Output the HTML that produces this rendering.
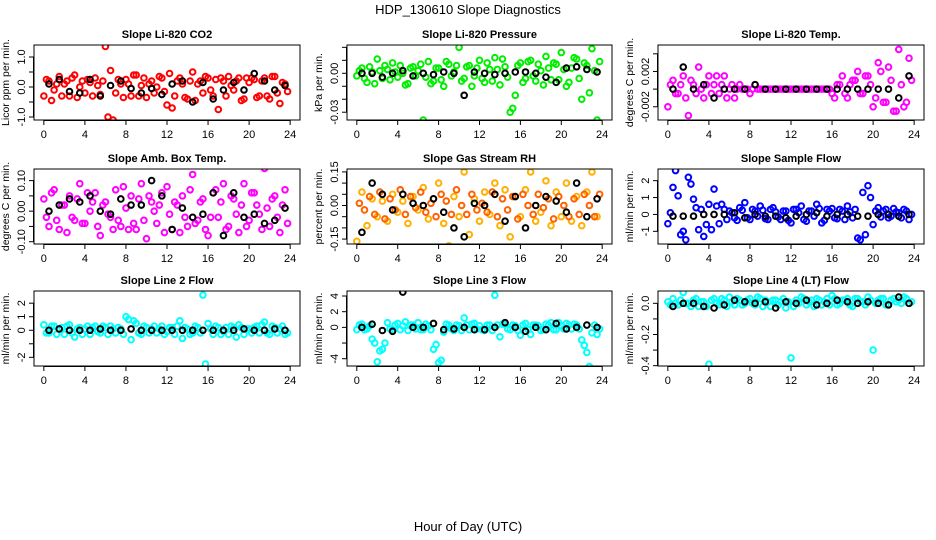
<!DOCTYPE html>
<html><head><meta charset="utf-8"><style>
html,body{margin:0;padding:0;background:#fff}
svg{display:block;font-family:"Liberation Sans",sans-serif}
</style></head><body>
<svg id="chart" width="936" height="540" viewBox="0 0 936 540" xmlns="http://www.w3.org/2000/svg">
<rect width="936" height="540" fill="#fff"/>
<text x="468" y="14" font-size="13" text-anchor="middle">HDP_130610  Slope Diagnostics</text>
<text x="468" y="531" font-size="13" text-anchor="middle">Hour of Day (UTC)</text>
</svg>
<script>
const xTicks=[0,4,8,12,16,20,24];
const co2A=[-0.3,0.2,-0.1,0.35,0.1,-0.3,0.4,0.0,-0.2,0.15,0.3,-0.25,1.35,0.55,-0.2,0.1,0.25,-0.3,0.4,0.05,-0.35,0.2,0.0,0.3,-0.6,-0.7,0.2,0.1,-0.4,0.5,0.1,-0.2,0.3,-0.3,-0.75,0.2,0.35,-0.1,0.3,-0.4,0.15,0.25,-0.3,0.3,-0.4,0.35,-0.55,0.1];
const co2B=[0.25,-0.45,0.1,-0.3,0.2,0.3,-0.35,0.2,0.25,-0.3,0.05,0.2,-1.0,-1.1,0.25,-0.35,0.1,0.4,-0.3,0.3,0.1,-0.2,0.35,-0.15,0.45,-0.3,0.3,-0.35,0.2,-0.45,0.2,0.35,-0.1,0.25,0.3,-0.3,0.05,0.2,-0.45,0.3,0.3,-0.35,0.2,-0.3,0.35,-0.2,0.15,-0.15];
const co2K=[0.1,0.25,-0.15,-0.2,0.25,-0.3,0.05,0.2,-0.05,-0.2,-0.05,-0.25,0.1,0.2,-0.5,0.15,-0.4,-0.1,0.15,-0.1,0.45,0.2,-0.1,0.05];
const prsA=[-0.002,0.004,-0.007,0.001,0.011,-0.004,0.003,0.008,-0.003,0.0,-0.008,0.005,0.002,-0.036,0.009,-0.006,0.004,-0.01,0.007,0.001,0.02,-0.004,0.006,-0.002,0.01,-0.007,0.003,0.012,-0.009,0.005,-0.03,-0.017,0.008,-0.004,0.01,-0.006,0.002,0.013,-0.005,0.007,0.016,-0.01,0.004,0.011,-0.02,0.006,0.019,-0.036];
const prsB=[0.002,-0.004,0.005,-0.008,0.002,0.006,-0.005,0.001,0.006,-0.009,0.004,-0.002,0.007,-0.003,-0.008,0.004,-0.005,0.009,-0.002,0.006,-0.006,0.005,-0.01,0.004,-0.004,0.008,-0.006,0.003,0.011,-0.003,-0.027,0.006,-0.007,0.009,-0.002,0.007,-0.009,0.004,0.008,-0.005,0.003,-0.007,0.012,-0.004,0.008,-0.015,0.002,0.009];
const prsK=[0.0,0.0,-0.003,0.0,0.002,-0.002,0.0,-0.001,0.001,0.0,-0.017,0.001,0.0,-0.001,0.0,0.001,0.001,0.0,-0.003,-0.007,0.004,0.005,0.003,0.001];
const tmpA=[-0.002,0.001,-0.0005,0.0015,-0.003,0.0005,0.0025,-0.001,0.0015,0.0005,-0.0005,0.0015,0.0,-0.001,0.0005,0.0,-0.0005,0.0005,0.0,0.0,0.0,0.0,0.0,0.0,0.0,0.0,0.0,0.0,0.0,0.0,0.0,0.0,-0.0005,0.0005,0.0015,-0.001,0.001,0.002,-0.0005,0.0015,-0.002,0.003,-0.0015,0.0025,-0.0025,0.0045,-0.002,0.0035];
const tmpB=[0.0005,-0.0005,0.0005,-0.001,0.001,-0.0005,0.0,0.0005,-0.0005,0.0015,0.0005,-0.001,0.0005,0.0,0.0,0.0,0.0,0.0,0.0,0.0,0.0,0.0,0.0,0.0,0.0,0.0,0.0,0.0,0.0,0.0,0.0,0.0,-0.001,0.0005,-0.0005,0.0005,0.001,-0.0005,0.0015,0.0005,-0.001,0.002,-0.0015,0.001,-0.0025,0.0005,-0.0015,0.001];
const tmpK=[0.0,0.0025,0.0,0.0005,-0.001,0.0,0.0,0.0,0.0005,0.0,0.0,0.0,0.0,0.0,0.0,0.0,0.0,0.0,0.0,0.0,0.0,0.0,-0.001,0.0015];
const ambA=[0.04,-0.05,0.07,-0.06,0.02,0.05,-0.03,0.09,-0.04,0.0,0.06,-0.08,0.03,-0.02,0.07,-0.05,0.01,0.05,-0.06,0.09,-0.09,0.03,-0.04,0.06,0.08,-0.06,0.02,0.05,-0.05,0.12,-0.03,0.04,-0.08,0.06,-0.02,0.09,-0.05,0.04,-0.07,0.09,-0.03,0.06,-0.01,0.14,-0.05,0.05,-0.07,0.07];
const ambB=[-0.02,0.06,-0.03,0.02,-0.07,-0.02,0.04,-0.04,0.06,0.03,-0.05,0.02,-0.01,-0.06,-0.03,0.08,-0.06,-0.04,0.04,-0.03,0.05,0.0,0.02,-0.07,-0.01,0.03,-0.07,-0.02,0.07,-0.04,0.03,-0.06,-0.02,0.07,0.03,-0.06,0.05,-0.01,0.02,-0.05,0.06,0.02,-0.06,0.01,0.04,-0.02,0.02,-0.04];
const ambK=[0.0,0.02,0.04,0.03,0.05,0.0,-0.01,0.04,0.02,0.02,0.1,0.05,-0.06,0.01,-0.02,-0.01,0.06,-0.08,0.06,-0.02,-0.01,-0.04,-0.03,0.01];
const rhA=[-0.16,0.06,-0.09,0.03,-0.05,0.02,-0.07,0.05,-0.03,0.02,-0.08,0.04,-0.02,0.08,-0.06,0.03,0.1,-0.08,-0.18,0.04,-0.05,0.15,-0.13,0.03,-0.07,0.06,-0.04,0.1,-0.09,0.07,-0.14,0.04,-0.05,0.07,0.15,-0.07,-0.03,0.11,-0.09,0.06,-0.05,0.1,-0.07,0.04,-0.09,0.06,0.15,-0.05];
const rhB=[0.01,-0.02,0.04,-0.04,0.06,-0.06,0.03,-0.02,0.07,-0.04,0.04,-0.01,0.06,-0.03,0.01,-0.05,0.05,0.02,-0.04,0.07,0.0,-0.04,0.05,-0.02,0.01,-0.03,0.06,-0.05,0.03,-0.02,0.04,-0.06,0.05,0.0,-0.04,0.05,-0.01,0.03,-0.06,0.04,0.0,-0.05,0.03,-0.04,0.05,0.0,-0.05,0.05];
const rhK=[-0.12,0.1,0.05,-0.02,0.05,0.01,0.0,0.03,-0.03,-0.1,-0.14,0.01,0.0,0.05,-0.07,0.04,-0.1,0.0,0.04,0.02,-0.03,0.1,-0.05,0.03];
const smpA=[-0.55,1.6,1.1,-1.0,2.2,0.9,-0.9,-1.3,0.6,1.5,-0.55,0.3,0.2,-0.2,0.4,0.7,-0.3,0.2,0.5,-0.25,0.3,0.15,-0.3,0.2,-0.5,0.3,0.5,-0.4,0.2,0.6,-0.5,0.3,0.35,-0.25,0.2,0.5,-0.2,-1.4,1.3,1.7,-0.6,0.4,0.2,-0.2,0.35,0.1,0.3,-0.3];
const smpB=[0.1,2.6,-1.2,-1.5,1.8,0.4,0.3,-0.6,-0.9,0.5,0.6,-0.3,0.1,-0.35,0.25,-0.2,0.3,-0.1,0.25,-0.3,0.4,-0.15,0.2,-0.35,0.3,0.1,-0.3,0.2,-0.1,0.35,-0.35,0.2,-0.2,0.3,-0.3,0.15,0.3,-1.5,-1.2,1.0,0.2,-0.15,0.3,-0.1,0.15,-0.2,0.2,0.0];
const smpK=[-0.1,-0.1,-0.1,0.0,0.0,0.0,0.1,-0.2,0.0,-0.1,-0.1,-0.2,-0.1,0.0,0.1,-0.1,0.0,0.0,-0.1,-0.1,0.0,0.0,-0.1,0.0];
const l2A=[0.4,-0.2,0.3,0.1,-0.3,0.4,-0.5,0.2,0.1,-0.3,0.3,-0.2,0.2,0.3,-0.2,0.1,1.0,-0.7,0.5,-0.3,0.2,0.1,-0.2,0.3,-0.1,0.2,0.3,-0.6,0.1,-0.2,0.2,2.6,0.5,-0.3,0.2,-0.1,-0.3,0.2,0.4,-0.3,0.1,0.2,-0.2,0.6,-0.3,0.2,0.1,-0.3];
const l2B=[-0.2,0.3,-0.3,0.2,0.3,-0.2,0.1,-0.3,0.3,0.2,-0.1,0.3,-0.3,0.1,0.2,-0.3,0.8,0.7,-0.2,0.3,-0.2,0.3,0.1,-0.3,0.2,-0.3,0.7,0.2,-0.3,0.3,-0.2,-2.5,0.1,0.3,-0.3,0.2,0.3,-0.5,0.2,0.1,-0.2,0.3,0.4,-0.2,0.3,-0.2,0.3,-0.2];
const l2K=[0.0,0.1,0.0,0.0,0.0,0.1,0.0,0.0,0.1,0.0,0.0,0.0,0.0,0.0,0.0,0.0,0.0,0.0,0.0,0.1,0.0,0.0,0.1,0.0];
const l3A=[-0.3,0.4,-0.2,-1.5,-4.4,-2.8,0.6,-0.3,0.5,0.2,-0.4,0.3,0.6,-0.3,0.2,-2.8,-4.5,-0.6,0.3,-0.4,0.2,1.2,-0.3,0.5,0.2,-0.4,0.3,4.1,-1.2,0.4,-0.3,0.2,-1.0,0.5,-0.9,0.3,-0.4,0.4,0.6,-0.3,0.2,0.5,-0.2,0.3,-1.6,-3.2,-0.7,-0.9];
const l3B=[0.3,-0.3,0.2,-2.0,-3.0,-2.0,-0.2,0.3,-0.3,0.7,0.3,-0.2,-0.3,0.4,-0.3,-2.2,-4.2,0.4,-0.2,0.3,-0.4,0.3,0.4,-0.2,-0.3,0.3,-0.4,0.3,0.4,-0.2,0.3,-0.4,0.3,-0.3,0.3,0.2,-0.3,0.3,-0.3,0.6,-0.2,0.3,0.4,-0.2,-2.3,-5.0,0.3,-0.2];
const l3K=[0.0,0.4,-0.4,-0.5,4.5,0.0,0.0,0.5,-0.3,-0.2,0.0,-0.3,-0.3,0.0,0.6,0.0,-0.5,0.0,-0.3,0.5,-0.2,0.0,0.3,0.0];
const l4A=[0.01,0.03,-0.01,0.07,0.0,0.02,-0.02,0.01,-0.39,0.03,-0.01,0.02,0.04,-0.01,0.02,0.0,0.03,-0.01,0.03,0.02,-0.02,0.02,0.01,-0.03,-0.35,0.02,0.04,-0.01,0.02,0.03,-0.01,0.03,0.05,-0.01,0.02,0.03,-0.02,0.03,0.01,0.04,-0.3,0.02,0.03,-0.01,0.03,0.02,0.04,0.0];
const l4B=[-0.01,0.0,0.02,0.0,-0.02,0.03,0.01,-0.02,0.02,0.0,0.03,-0.02,0.01,0.03,-0.01,0.02,0.0,0.04,-0.02,0.01,0.02,-0.01,0.03,0.01,-0.02,0.0,0.03,0.01,-0.02,0.02,0.01,-0.01,0.03,0.0,0.02,-0.01,0.03,0.01,-0.01,0.02,0.0,0.03,-0.01,0.02,0.01,0.0,0.03,0.01];
const l4K=[-0.02,0.0,0.0,-0.02,-0.03,-0.01,0.02,0.01,0.0,0.01,-0.03,0.01,0.0,0.02,-0.01,0.0,0.02,0.01,0.0,0.01,0.0,-0.01,0.04,0.0];

const NS="http://www.w3.org/2000/svg";
const svg=document.getElementById('chart');
function mk(tag,attrs,parent){const e=document.createElementNS(NS,tag);for(const k in attrs)e.setAttribute(k,attrs[k]);(parent||svg).appendChild(e);return e;}
const cols=[[34,300],[347,612],[658,924]];
const rows=[[45,120],[169,244],[291,366]];
const panels=[
 {name:'co2',title:'Slope Li-820 CO2',yl:'Licor ppm per min.',col:'#ff0000',c:0,r:0,ymin:-1.1,ymax:1.4,ticks:[-1,-0.5,0,0.5,1],labs:{'-1':'-1.0','0':'0.0','1':'1.0'},A:co2A,B:co2B,K:co2K},
 {name:'pressure',title:'Slope Li-820 Pressure',yl:'kPa per min.',col:'#00ee00',c:1,r:0,ymin:-0.036,ymax:0.0218,ticks:[-0.03,-0.02,-0.01,0,0.01,0.02],labs:{'0':'0.00','-0.03':'-0.03'},A:prsA,B:prsB,K:prsK},
 {name:'temp',title:'Slope Li-820 Temp.',yl:'degrees C per min.',col:'#ff00ff',c:2,r:0,ymin:-0.0035,ymax:0.005,ticks:[-0.002,0,0.002,0.004],labs:{'0.002':'0.002','-0.002':'-0.002'},A:tmpA,B:tmpB,K:tmpK},
 {name:'amb-box-temp',title:'Slope Amb. Box Temp.',yl:'degrees C per min.',col:'#ff00ff',c:0,r:1,ymin:-0.1075,ymax:0.138,ticks:[-0.1,-0.05,0,0.05,0.1],labs:{'-0.1':'-0.10','0':'0.00','0.1':'0.10'},A:ambA,B:ambB,K:ambK},
 {name:'gas-stream-rh',title:'Slope Gas Stream RH',yl:'percent per min.',col:'#ffb000',col2:'#ff6000',c:1,r:1,ymin:-0.172,ymax:0.163,ticks:[-0.15,-0.1,-0.05,0,0.05,0.1,0.15],labs:{'-0.15':'-0.15','0':'0.00','0.15':'0.15'},A:rhA,B:rhB,K:rhK},
 {name:'sample-flow',title:'Slope Sample Flow',yl:'ml/min per min.',col:'#0000ff',c:2,r:1,ymin:-1.75,ymax:2.69,ticks:[-1,0,1,2],labs:{'-1':'-1','0':'0','1':'1','2':'2'},A:smpA,B:smpB,K:smpK},
 {name:'line2-flow',title:'Slope Line 2 Flow',yl:'ml/min per min.',col:'#00ffff',c:0,r:2,ymin:-2.64,ymax:2.9,ticks:[-2,-1,0,1,2],labs:{'-2':'-2','0':'0','1':'1','2':'2'},A:l2A,B:l2B,K:l2K},
 {name:'line3-flow',title:'Slope Line 3 Flow',yl:'ml/min per min.',col:'#00ffff',c:1,r:2,ymin:-4.93,ymax:4.64,ticks:[-4,-2,0,2,4],labs:{'-4':'-4','0':'0','2':'2','4':'4'},A:l3A,B:l3B,K:l3K},
 {name:'line4-flow',title:'Slope Line 4 (LT) Flow',yl:'ml/min per min.',col:'#00ffff',c:2,r:2,ymin:-0.402,ymax:0.079,ticks:[-0.4,-0.3,-0.2,-0.1,0],labs:{'-0.4':'-0.4','-0.2':'-0.2','0':'0.0'},A:l4A,B:l4B,K:l4K}
];
panels.forEach(p=>{
 const [x0,x1]=cols[p.c],[y0,y1]=rows[p.r];
 const sx=h=>x0+(h+0.96)/25.92*(x1-x0);
 const sy=v=>y1-(v-p.ymin)/(p.ymax-p.ymin)*(y1-y0);
 const g=mk('g',{});
 
 
 const t=mk('text',{x:(x0+x1)/2,y:y0-7,'font-size':'11','font-weight':'bold','text-anchor':'middle'},g);
 t.textContent=p.title;
 
 
 const yt=mk('text',{transform:`translate(${x0-25},${(y0+y1)/2}) rotate(-90)`,'font-size':'10.5','text-anchor':'middle'},g);
 yt.textContent=p.yl;
 
 
 const xa=mk('g',{},g);
 
 
 mk('line',{x1:sx(0),x2:sx(24),y1:y1+0.5,y2:y1+0.5,stroke:'#000'},xa);
 xTicks.forEach(h=>{
  mk('line',{x1:sx(h),x2:sx(h),y1:y1,y2:y1+5,stroke:'#000'},xa);
  const tl=mk('text',{x:sx(h),y:y1+18,'font-size':'11','text-anchor':'middle'},xa);
  tl.textContent=h;
  
  
 });
 const ya=mk('g',{},g);
 
 
 mk('line',{x1:x0-0.5,x2:x0-0.5,y1:sy(p.ticks[0]),y2:sy(p.ticks[p.ticks.length-1]),stroke:'#000'},ya);
 p.ticks.forEach(v=>{
  mk('line',{x1:x0-5,x2:x0,y1:sy(v),y2:sy(v),stroke:'#000'},ya);
  const key=String(v);
  if(p.labs[key]!==undefined){
   const tl=mk('text',{transform:`translate(${x0-9},${sy(v)}) rotate(-90)`,'font-size':'11','text-anchor':'middle'},ya);
   tl.textContent=p.labs[key];
   
   
  }
 });
 const clipId='clip-'+p.name;
 const cp=mk('clipPath',{id:clipId},g);
 mk('rect',{x:x0,y:y0,width:x1-x0,height:y1-y0},cp);
 const pts=mk('g',{'clip-path':`url(#${clipId})`},g);
 
 
 const draw=(arr,off,step,color,cls,sw)=>arr.forEach((v,i)=>{
  const c=mk('circle',{cx:sx(i*step+off),cy:sy(v),r:2.8,fill:'none',stroke:color,'stroke-width':sw},pts);
  
  
 });
 draw(p.A,0,0.5,p.col,'data-point',2);
 draw(p.B,0.25,0.5,p.col2||p.col,'data-point',2);
 draw(p.K,0.5,1,'#000','hourly-mean-point',2);
 mk('rect',{x:x0,y:y0,width:x1-x0,height:y1-y0,fill:'none',stroke:'#000','stroke-width':1},g);
});
</script>
</body></html>
